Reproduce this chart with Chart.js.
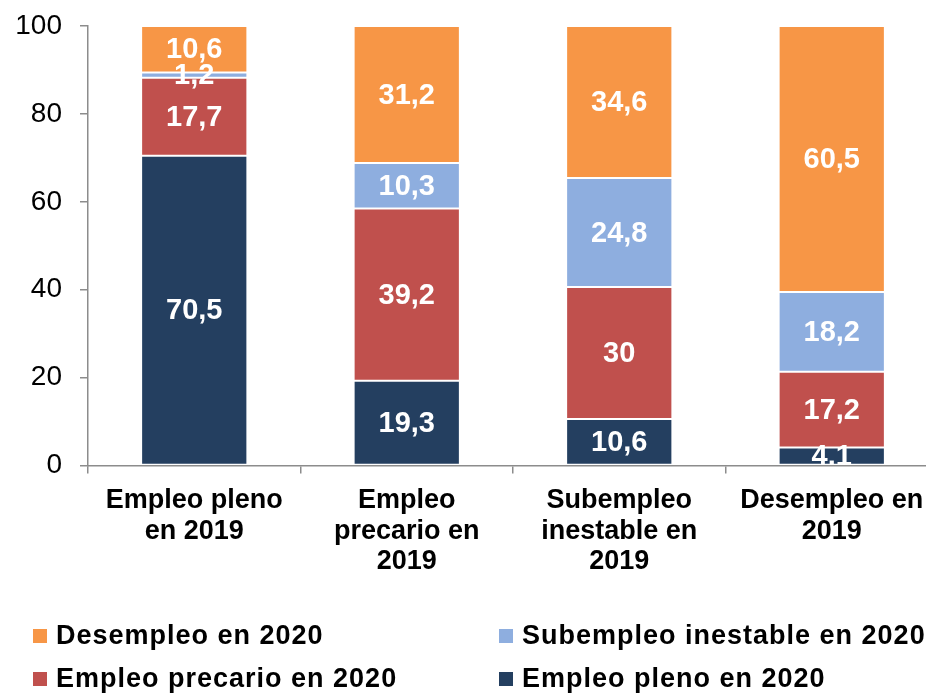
<!DOCTYPE html>
<html>
<head>
<meta charset="utf-8">
<script src="https://cdn.jsdelivr.net/npm/chart.js@4"></script>
<style>
  html, body { margin: 0; padding: 0; background: #fff; overflow: hidden; }
  #wrap { position: absolute; left: 0; top: 0; width: 940px; height: 694px; }
</style>
</head>
<body>
<div id="wrap"><canvas id="c"></canvas></div>
<script>
// ---- data ----
const categories = [
  ['Empleo pleno', 'en 2019'],
  ['Empleo', 'precario en', '2019'],
  ['Subempleo', 'inestable en', '2019'],
  ['Desempleo en', '2019']
];
const seriesNames = ['Empleo pleno en 2020', 'Empleo precario en 2020', 'Subempleo inestable en 2020', 'Desempleo en 2020'];
const plenoValues = [70.5, 19.3, 10.6, 4.1];
const precarioValues = [17.7, 39.2, 30, 17.2];
const subempleoValues = [1.2, 10.3, 24.8, 18.2];
const desempleoValues = [10.6, 31.2, 34.6, 60.5];
const plenoLabels = ['70,5', '19,3', '10,6', '4.1'];
const precarioLabels = ['17,7', '39,2', '30', '17,2'];
const subempleoLabels = ['1,2', '10,3', '24,8', '18,2'];
const desempleoLabels = ['10,6', '31,2', '34,6', '60,5'];
const yTicks = [0, 20, 40, 60, 80, 100];
const legendOrder = ['Desempleo en 2020', 'Subempleo inestable en 2020', 'Empleo precario en 2020', 'Empleo pleno en 2020'];

const colors = ['#243F60', '#C0504D', '#8EAEDF', '#F79646'];
const FONT = '"Liberation Sans", Arial, Helvetica, sans-serif';

const valueLists = [plenoValues, precarioValues, subempleoValues, desempleoValues];
const labelLists = [plenoLabels, precarioLabels, subempleoLabels, desempleoLabels];

const datasets = seriesNames.map((name, i) => ({
  label: name,
  data: valueLists[i],
  valueLabels: labelLists[i],
  backgroundColor: colors[i],
  borderColor: '#ffffff',
  borderWidth: 1,
  borderSkipped: false,
  categoryPercentage: 1.0,
  barPercentage: 0.5
}));

const valueLabelPlugin = {
  id: 'valueLabels',
  afterDatasetsDraw(chart) {
    const ctx = chart.ctx;
    ctx.save();
    ctx.font = 'bold 29px ' + FONT;
    ctx.fillStyle = '#ffffff';
    ctx.textAlign = 'center';
    ctx.textBaseline = 'middle';
    chart.data.datasets.forEach((ds, di) => {
      const meta = chart.getDatasetMeta(di);
      meta.data.forEach((el, i) => {
        const y = (el.y + el.base) / 2;
        ctx.fillText(ds.valueLabels[i], el.x, y + 1);
      });
    });
    ctx.restore();
  }
};

const legendPlugin = {
  id: 'customLegend',
  afterDraw(chart) {
    const ctx = chart.ctx;
    const cols = [33, 499];
    const rows = [636, 679];
    ctx.save();
    ctx.font = 'bold 27px ' + FONT;
    if ('letterSpacing' in ctx) ctx.letterSpacing = '1px';
    ctx.textBaseline = 'middle';
    ctx.textAlign = 'left';
    legendOrder.forEach((name, k) => {
      const di = chart.data.datasets.findIndex(d => d.label === name);
      const ds = chart.data.datasets[di];
      const x = cols[k % 2], y = rows[Math.floor(k / 2)];
      ctx.fillStyle = ds.backgroundColor;
      ctx.fillRect(x, y - 7, 14, 14);
      ctx.fillStyle = '#000000';
      ctx.fillText(name, x + 23, y + 1);
    });
    ctx.restore();
  }
};

new Chart(document.getElementById('c'), {
  type: 'bar',
  data: { labels: categories, datasets },
  plugins: [valueLabelPlugin, legendPlugin],
  options: {
    responsive: true,
    maintainAspectRatio: false,
    animation: false,
    layout: { padding: { top: 26, right: 2, bottom: 105, left: 0 } },
    plugins: { legend: { display: false }, tooltip: { enabled: false } },
    scales: {
      x: {
        stacked: true,
        grid: { display: true, drawOnChartArea: false, drawTicks: true, tickLength: 8, color: '#8C8C8C', lineWidth: 1.5, offset: true },
        border: { display: true, color: '#8C8C8C', width: 1.5 },
        ticks: {
          color: '#000000',
          font: { family: FONT, size: 27, weight: 'bold', lineHeight: 1.13 },
          padding: 12,
          maxRotation: 0,
          autoSkip: false
        }
      },
      y: {
        stacked: true,
        min: 0,
        max: 100,
        afterFit(scale) { scale.width = 88; scale.paddingTop = 0; },
        afterBuildTicks(scale) { scale.ticks = yTicks.map(v => ({ value: v })); },
        grid: { display: true, drawOnChartArea: false, drawTicks: true, tickLength: 8, color: '#8C8C8C', lineWidth: 1.5 },
        border: { display: true, color: '#8C8C8C', width: 1.5 },
        ticks: {
          color: '#000000',
          font: { family: FONT, size: 28 },
          padding: 18
        }
      }
    }
  }
});
</script>
</body>
</html>
